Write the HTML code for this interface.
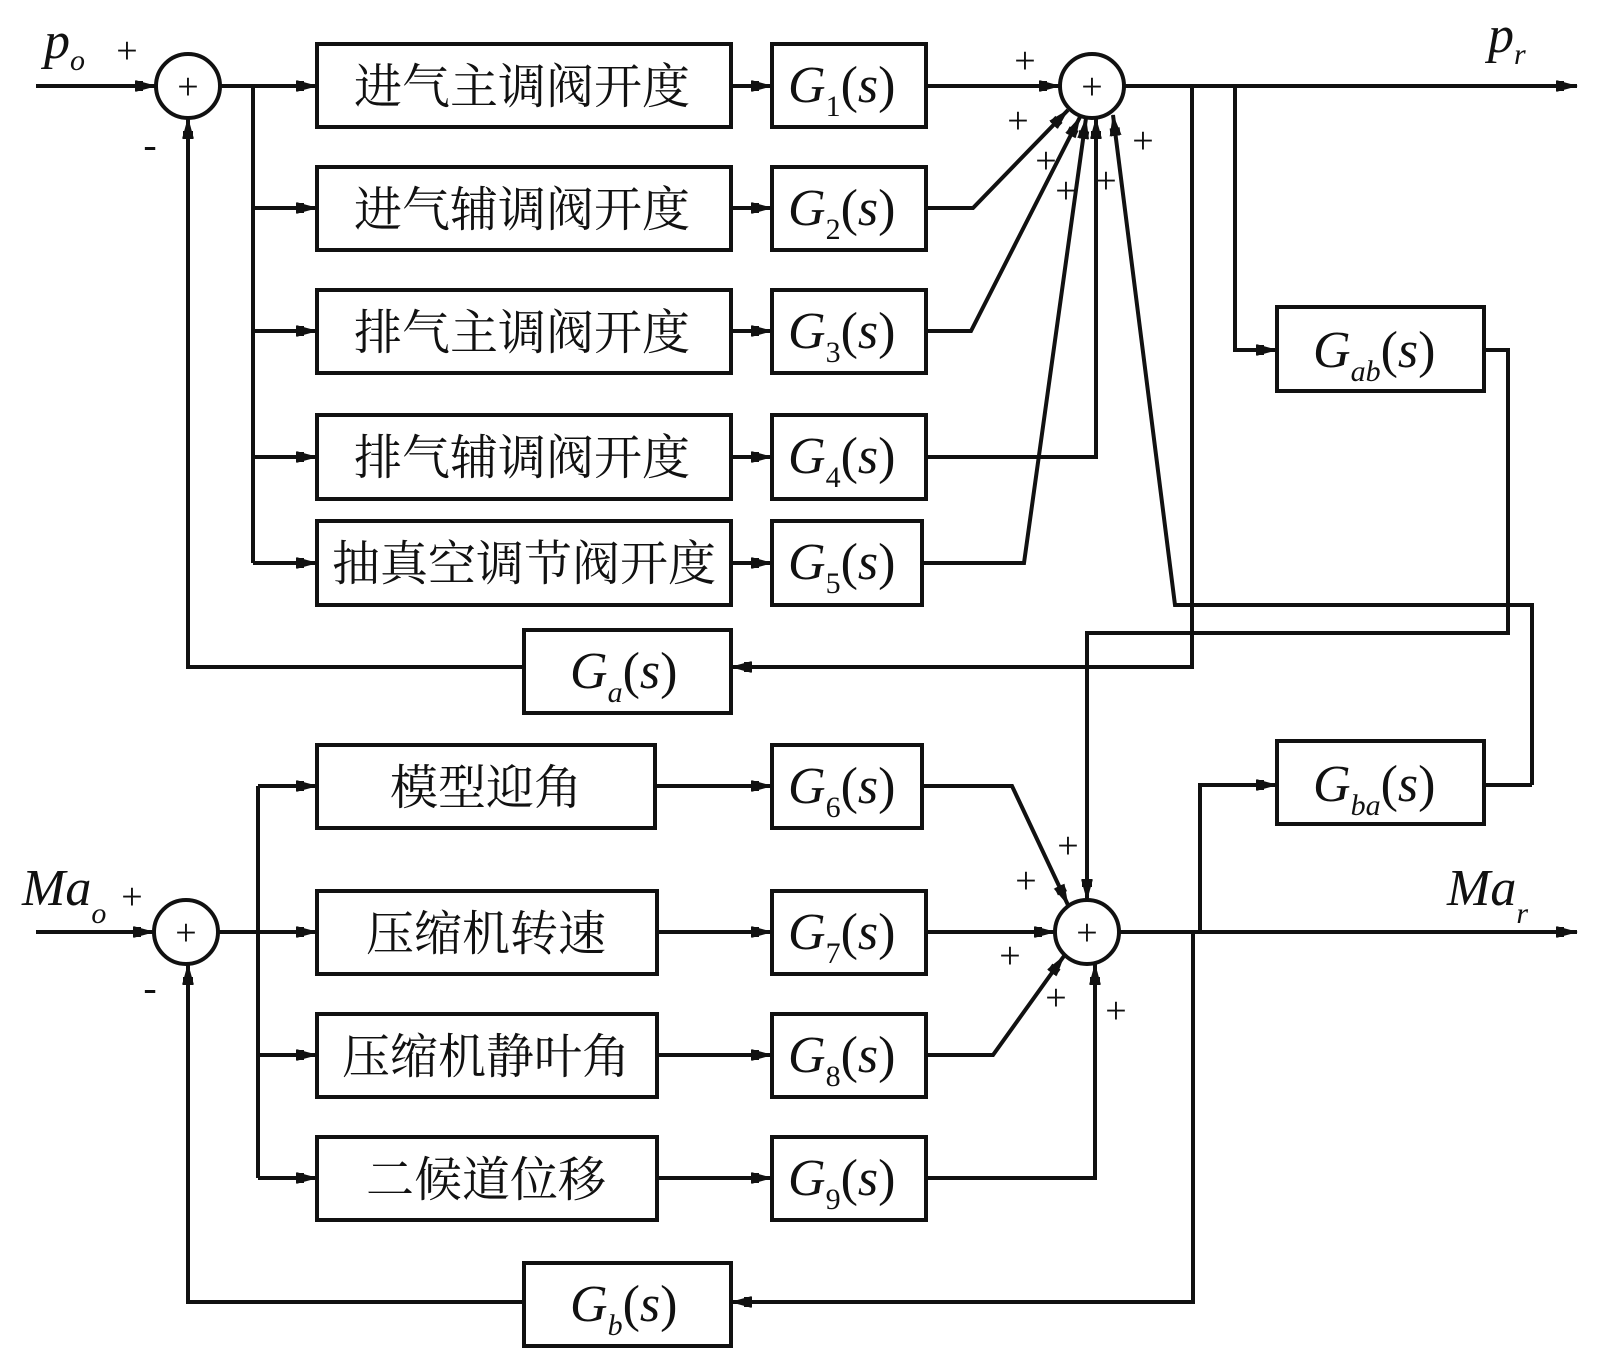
<!DOCTYPE html>
<html><head><meta charset="utf-8"><style>
html,body{margin:0;padding:0;background:#fff;}
svg{display:block;}
.cn{font-family:"Liberation Serif","Noto Serif CJK SC",serif;font-size:48px;fill:#111;}
.g{font-family:"Liberation Serif",serif;font-style:italic;font-size:52px;fill:#111;}
.sub{font-size:30px;}
.up{font-style:normal;}
.pl{font-family:"Liberation Serif",serif;font-size:38px;fill:#111;}
</style></head><body>
<svg width="1603" height="1364" viewBox="0 0 1603 1364" xmlns="http://www.w3.org/2000/svg">
<defs>
<marker id="a" markerWidth="22" markerHeight="16" refX="21" refY="8" orient="auto" markerUnits="userSpaceOnUse">
<path d="M0,2 L4,8 L0,14 L22,8 Z" fill="#111"/>
<rect x="0" y="3" width="8" height="10" fill="#111"/>
</marker>
</defs>
<g stroke="#111" stroke-width="4" fill="none">
<circle cx="188" cy="86" r="32"/>
<circle cx="1092" cy="86" r="32"/>
<circle cx="186" cy="932" r="32"/>
<circle cx="1087" cy="932" r="32"/>
<rect x="317" y="44" width="414" height="83"/>
<rect x="317" y="167" width="414" height="83"/>
<rect x="317" y="290" width="414" height="83"/>
<rect x="317" y="415" width="414" height="84"/>
<rect x="317" y="521" width="414" height="84"/>
<rect x="772" y="44" width="154" height="83"/>
<rect x="772" y="167" width="154" height="83"/>
<rect x="772" y="290" width="154" height="83"/>
<rect x="772" y="415" width="154" height="84"/>
<rect x="772" y="521" width="150" height="84"/>
<rect x="524" y="630" width="207" height="83"/>
<rect x="1277" y="307" width="207" height="84"/>
<rect x="317" y="745" width="338" height="83"/>
<rect x="317" y="891" width="340" height="83"/>
<rect x="317" y="1014" width="340" height="83"/>
<rect x="317" y="1137" width="340" height="83"/>
<rect x="772" y="745" width="150" height="83"/>
<rect x="772" y="891" width="154" height="83"/>
<rect x="772" y="1014" width="154" height="83"/>
<rect x="772" y="1137" width="154" height="83"/>
<rect x="524" y="1263" width="207" height="83"/>
<rect x="1277" y="741" width="207" height="83"/>

<line x1="36" y1="86" x2="156" y2="86" marker-end="url(#a)"/>
<line x1="220" y1="86" x2="317" y2="86" marker-end="url(#a)"/>
<polyline points="253,86 253,563"/>
<line x1="253" y1="208" x2="317" y2="208" marker-end="url(#a)"/>
<line x1="253" y1="331" x2="317" y2="331" marker-end="url(#a)"/>
<line x1="253" y1="457" x2="317" y2="457" marker-end="url(#a)"/>
<line x1="253" y1="563" x2="317" y2="563" marker-end="url(#a)"/>
<line x1="731" y1="86" x2="772" y2="86" marker-end="url(#a)"/>
<line x1="731" y1="208" x2="772" y2="208" marker-end="url(#a)"/>
<line x1="731" y1="331" x2="772" y2="331" marker-end="url(#a)"/>
<line x1="731" y1="457" x2="772" y2="457" marker-end="url(#a)"/>
<line x1="731" y1="563" x2="772" y2="563" marker-end="url(#a)"/>
<line x1="926" y1="86" x2="1060" y2="86" marker-end="url(#a)"/>
<polyline points="926,208 973,208 1068,110" marker-end="url(#a)"/>
<polyline points="926,331 971,331 1080,117" marker-end="url(#a)"/>
<polyline points="926,457 1096,457 1096,118" marker-end="url(#a)"/>
<polyline points="922,563 1024,563 1086,118" marker-end="url(#a)"/>
<polyline points="1532,785 1532,605 1175,605 1113,115" marker-end="url(#a)"/>
<line x1="1124" y1="86" x2="1577" y2="86" marker-end="url(#a)"/>
<polyline points="1192,86 1192,667 731,667" marker-end="url(#a)"/>
<polyline points="1235,86 1235,350 1277,350" marker-end="url(#a)"/>
<polyline points="1484,350 1508,350 1508,633 1087,633 1087,900" marker-end="url(#a)"/>
<polyline points="524,667 188,667 188,118" marker-end="url(#a)"/>

<line x1="36" y1="932" x2="154" y2="932" marker-end="url(#a)"/>
<line x1="218" y1="932" x2="317" y2="932" marker-end="url(#a)"/>
<polyline points="258,786 258,1178"/>
<line x1="258" y1="786" x2="317" y2="786" marker-end="url(#a)"/>
<line x1="258" y1="1055" x2="317" y2="1055" marker-end="url(#a)"/>
<line x1="258" y1="1178" x2="317" y2="1178" marker-end="url(#a)"/>
<line x1="655" y1="786" x2="772" y2="786" marker-end="url(#a)"/>
<line x1="657" y1="932" x2="772" y2="932" marker-end="url(#a)"/>
<line x1="657" y1="1055" x2="772" y2="1055" marker-end="url(#a)"/>
<line x1="657" y1="1178" x2="772" y2="1178" marker-end="url(#a)"/>
<polyline points="922,786 1012,786 1068,905" marker-end="url(#a)"/>
<line x1="926" y1="932" x2="1055" y2="932" marker-end="url(#a)"/>
<polyline points="926,1055 993,1055 1064,956" marker-end="url(#a)"/>
<polyline points="926,1178 1095,1178 1095,964" marker-end="url(#a)"/>
<line x1="1119" y1="932" x2="1577" y2="932" marker-end="url(#a)"/>
<polyline points="1200,932 1200,785 1277,785" marker-end="url(#a)"/>
<polyline points="1484,785 1532,785"/>
<polyline points="1193,932 1193,1302 731,1302" marker-end="url(#a)"/>
<polyline points="524,1302 188,1302 188,964" marker-end="url(#a)"/>
</g>

<g class="pl" text-anchor="middle">
<text x="188" y="99">+</text><text x="1092" y="99">+</text>
<text x="186" y="945">+</text><text x="1087" y="945">+</text>
<text x="127" y="63">+</text><text x="150" y="158" font-size="40">-</text>
<text x="132" y="909">+</text><text x="150" y="1001" font-size="40">-</text>
<text x="1025" y="73">+</text><text x="1018" y="133">+</text>
<text x="1046" y="173">+</text><text x="1066" y="203">+</text>
<text x="1106" y="193">+</text><text x="1143" y="153">+</text>
<text x="1068" y="858">+</text><text x="1026" y="893">+</text>
<text x="1010" y="968">+</text><text x="1056" y="1010">+</text>
<text x="1116" y="1023">+</text>
</g>

<g class="cn" text-anchor="middle">
<text x="522" y="103">进气主调阀开度</text>
<text x="522" y="226">进气辅调阀开度</text>
<text x="522" y="349">排气主调阀开度</text>
<text x="522" y="474">排气辅调阀开度</text>
<text x="524" y="580">抽真空调节阀开度</text>
<text x="486" y="804">模型迎角</text>
<text x="486" y="950">压缩机转速</text>
<text x="486" y="1073">压缩机静叶角</text>
<text x="486" y="1196">二候道位移</text>
</g>

<g class="g">
<text x="788" y="102">G<tspan class="sub up" dy="14">1</tspan><tspan class="up" dy="-14">(</tspan>s<tspan class="up">)</tspan></text>
<text x="788" y="225">G<tspan class="sub up" dy="14">2</tspan><tspan class="up" dy="-14">(</tspan>s<tspan class="up">)</tspan></text>
<text x="788" y="348">G<tspan class="sub up" dy="14">3</tspan><tspan class="up" dy="-14">(</tspan>s<tspan class="up">)</tspan></text>
<text x="788" y="473">G<tspan class="sub up" dy="14">4</tspan><tspan class="up" dy="-14">(</tspan>s<tspan class="up">)</tspan></text>
<text x="788" y="579">G<tspan class="sub up" dy="14">5</tspan><tspan class="up" dy="-14">(</tspan>s<tspan class="up">)</tspan></text>
<text x="788" y="803">G<tspan class="sub up" dy="14">6</tspan><tspan class="up" dy="-14">(</tspan>s<tspan class="up">)</tspan></text>
<text x="788" y="949">G<tspan class="sub up" dy="14">7</tspan><tspan class="up" dy="-14">(</tspan>s<tspan class="up">)</tspan></text>
<text x="788" y="1072">G<tspan class="sub up" dy="14">8</tspan><tspan class="up" dy="-14">(</tspan>s<tspan class="up">)</tspan></text>
<text x="788" y="1195">G<tspan class="sub up" dy="14">9</tspan><tspan class="up" dy="-14">(</tspan>s<tspan class="up">)</tspan></text>
<text x="570" y="688">G<tspan class="sub" dy="14">a</tspan><tspan class="up" dy="-14">(</tspan>s<tspan class="up">)</tspan></text>
<text x="570" y="1321">G<tspan class="sub" dy="14">b</tspan><tspan class="up" dy="-14">(</tspan>s<tspan class="up">)</tspan></text>
<text x="1313" y="367">G<tspan class="sub" dy="14">ab</tspan><tspan class="up" dy="-14">(</tspan>s<tspan class="up">)</tspan></text>
<text x="1313" y="801">G<tspan class="sub" dy="14">ba</tspan><tspan class="up" dy="-14">(</tspan>s<tspan class="up">)</tspan></text>
<text x="44" y="58">p<tspan class="sub" dy="12">o</tspan></text>
<text x="1488" y="52">p<tspan class="sub" dy="12">r</tspan></text>
<text x="22" y="905">Ma<tspan class="sub" dy="18">o</tspan></text>
<text x="1447" y="905">Ma<tspan class="sub" dy="18">r</tspan></text>
</g>
</svg>
</body></html>
